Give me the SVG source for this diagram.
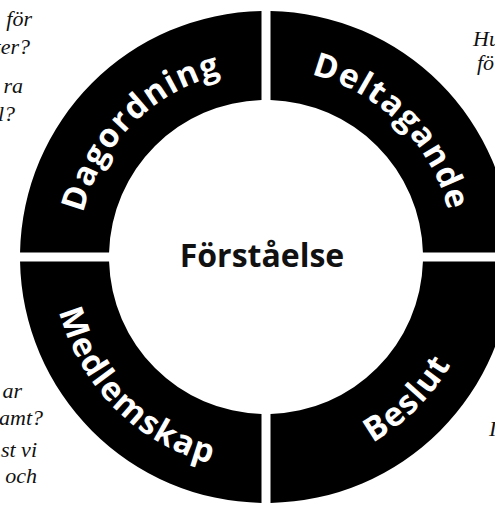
<svg xmlns="http://www.w3.org/2000/svg" width="495" height="505" viewBox="0 0 495 505">
<style>
.seg{fill:#000}
.lbl{font-family:"Open Sans","Noto Sans",sans-serif;font-weight:700;font-size:33px;fill:#fff;letter-spacing:1.5px}
.ctr{font-family:"Open Sans","Noto Sans",sans-serif;font-weight:700;font-size:32px;fill:#111}
.q{font-family:"Liberation Serif","Times New Roman",serif;font-style:italic;font-size:22px;fill:#111}
</style>
<defs>
<path id="pDag" d="M 78 257 A 188 188 0 0 1 266 69"/>
<path id="pDel" d="M 266 69 A 188 188 0 0 1 454 257"/>
<path id="pMed" d="M 52 257 A 214 214 0 0 0 266 471"/>
<path id="pBes" d="M 266 471 A 214 214 0 0 0 480 257"/>
</defs>
<rect width="495" height="505" fill="#fff"/>
<g id="notes">
<text class="q" x="32" y="26" text-anchor="end">för</text>
<text class="q" x="30" y="54" text-anchor="end">ter?</text>
<text class="q" x="23" y="93" text-anchor="end">ra</text>
<text class="q" x="15" y="121" text-anchor="end">l?</text>
<text class="q" x="473" y="46">Hu</text>
<text class="q" x="477" y="70">fö</text>
<text class="q" x="22" y="398" text-anchor="end">ar</text>
<text class="q" x="43" y="425" text-anchor="end">amt?</text>
<text class="q" x="37" y="457" text-anchor="end">st vi</text>
<text class="q" x="37" y="483" text-anchor="end">och</text>
<text class="q" x="489" y="436">I</text>
</g>
<g id="dagordning">
<path class="seg" d="M 261.5 11.04 L 261.5 100.07 A 157 157 0 0 0 109.07 252.5 L 20.04 252.5 A 246 246 0 0 1 261.5 11.04 Z"/>
<text class="lbl"><textPath href="#pDag" startOffset="50%" text-anchor="middle">Dagordning</textPath></text>
</g>
<g id="deltagande">
<path class="seg" d="M 270.5 11.04 A 246 246 0 0 1 511.96 252.5 L 422.93 252.5 A 157 157 0 0 0 270.5 100.07 Z"/>
<text class="lbl"><textPath href="#pDel" startOffset="50%" text-anchor="middle">Deltagande</textPath></text>
</g>
<g id="beslut">
<path class="seg" d="M 511.96 261.5 A 246 246 0 0 1 270.5 502.96 L 270.5 413.93 A 157 157 0 0 0 422.93 261.5 Z"/>
<text class="lbl"><textPath href="#pBes" startOffset="50%" text-anchor="middle">Beslut</textPath></text>
</g>
<g id="medlemskap">
<path class="seg" d="M 261.5 502.96 A 246 246 0 0 1 20.04 261.5 L 109.07 261.5 A 157 157 0 0 0 261.5 413.93 Z"/>
<text class="lbl"><textPath href="#pMed" startOffset="50%" text-anchor="middle">Medlemskap</textPath></text>
</g>
<g id="forstaelse">
<text class="ctr" x="262" y="267" text-anchor="middle">Förståelse</text>
</g>
</svg>
